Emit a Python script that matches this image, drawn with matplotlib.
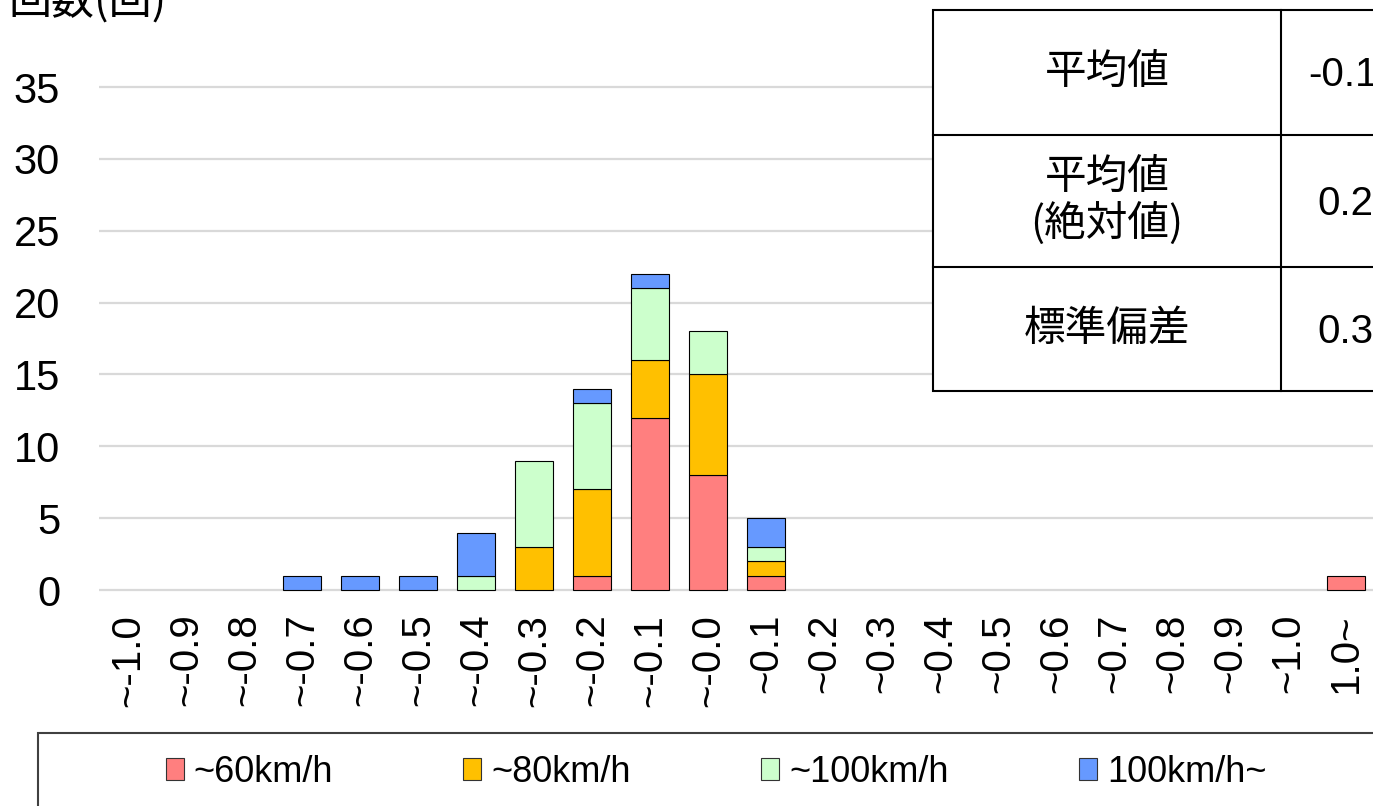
import matplotlib
matplotlib.use("Agg")
import matplotlib.pyplot as plt
from matplotlib.patches import Rectangle
import numpy as np

plt.rcParams['font.family'] = ['Liberation Sans', 'Noto Sans CJK JP']

# error bins and counts per speed band
labels = ['~-1.0', '~-0.9', '~-0.8', '~-0.7', '~-0.6', '~-0.5', '~-0.4',
          '~-0.3', '~-0.2', '~-0.1', '~-0.0', '~0.1', '~0.2', '~0.3',
          '~0.4', '~0.5', '~0.6', '~0.7', '~0.8', '~0.9', '~1.0', '1.0~']
under60 = [0, 0, 0, 0, 0, 0, 0, 0, 1, 12, 8, 1, 0, 0, 0, 0, 0, 0, 0, 0, 0, 1]
under80 = [0, 0, 0, 0, 0, 0, 0, 3, 6, 4, 7, 1, 0, 0, 0, 0, 0, 0, 0, 0, 0, 0]
under100 = [0, 0, 0, 0, 0, 0, 1, 6, 6, 5, 3, 1, 0, 0, 0, 0, 0, 0, 0, 0, 0, 0]
over100 = [0, 0, 0, 1, 1, 1, 3, 0, 1, 1, 0, 2, 0, 0, 0, 0, 0, 0, 0, 0, 0, 0]

series_names = ['~60km/h', '~80km/h', '~100km/h', '100km/h~']
series_colors = ['#FF7F7F', '#FFC000', '#CCFFCC', '#6699FF']

stat_names = ['平均値', '平均値\n(絶対値)', '標準偏差']
stat_values = ['-0.1', '0.2', '0.3']

W, H = 1373, 806
fig = plt.figure(figsize=(W / 100, H / 100), dpi=100)

# main plot area (pixel layout converted to figure fractions)
ppu = 503 / 35
ax_top = 590 - 36 * ppu
ax_bot = 590 + 0.2 * ppu
ax = fig.add_axes([99 / W, 1 - ax_bot / H, (1375 - 99) / W, (ax_bot - ax_top) / H])

x = np.arange(len(labels))
bottom = np.zeros(len(labels))
handles = []
for vals, name, col in zip([under60, under80, under100, over100], series_names, series_colors):
    vals = np.array(vals, dtype=float)
    lw = [0.8 if v > 0 else 0 for v in vals]
    b = ax.bar(x, vals, 0.67, bottom=bottom, color=col, edgecolor='black',
               linewidth=lw, label=name, zorder=3)
    handles.append(b)
    bottom += vals

ax.set_xlim(-0.5, len(labels) - 0.5)
ax.set_ylim(-0.2, 36)
ax.set_yticks(range(0, 36, 5))
ax.set_xticks(x)
ax.set_xticklabels(labels, rotation=90, fontsize=29)
ax.tick_params(axis='y', labelsize=30, length=0, pad=28)
ax.tick_params(axis='x', length=0, pad=15)
ax.grid(axis='y', color='#D9D9D9', linewidth=1.6, zorder=0)
for s in ax.spines.values():
    s.set_visible(False)

fig.text(8 / W, 1 - 14 / H, '回数(回)', fontsize=31, va='baseline', ha='left',
         family=['Noto Sans CJK JP'])

# overlay in pixel coordinates for the stats table and legend frame
ov = fig.add_axes([0, 0, 1, 1], facecolor='none')
ov.set_xlim(0, W)
ov.set_ylim(H, 0)
ov.axis('off')

row_edges = [10, 135, 267, 391]
value_x = [1308, 1317, 1317]
ov.add_patch(Rectangle((933, 10), 600, 381, facecolor='white', edgecolor='black',
                       linewidth=1.5, zorder=5))
ov.plot([1281, 1281], [10, 391], color='black', linewidth=1.5, zorder=6)
for y in row_edges[1:-1]:
    ov.plot([933, 1400], [y, y], color='black', linewidth=1.5, zorder=6)
for i, (nm, val) in enumerate(zip(stat_names, stat_values)):
    yc = (row_edges[i] + row_edges[i + 1]) / 2
    ov.text(1107, yc, nm, fontsize=30, ha='center', va='center', linespacing=1.1,
            family=['Noto Sans CJK JP'], zorder=7)
    ov.text(value_x[i], yc + 3, val, fontsize=29, ha='left', va='center', zorder=7)

ov.add_patch(Rectangle((38, 733), 1356, 78, facecolor='white', edgecolor='#404040',
                       linewidth=1.5, zorder=5))
leg = fig.legend(handles=handles, loc='center', bbox_to_anchor=(716 / W, 1 - 772 / H),
                 ncol=4, frameon=False, fontsize=26, handlelength=0.5,
                 handleheight=0.55, handletextpad=0.28, columnspacing=3.6)
for h in leg.legend_handles:
    h.set_linewidth(0.8)
    h.set_edgecolor('#333333')
leg.set_zorder(10)

fig.savefig('out.png', dpi=100)
